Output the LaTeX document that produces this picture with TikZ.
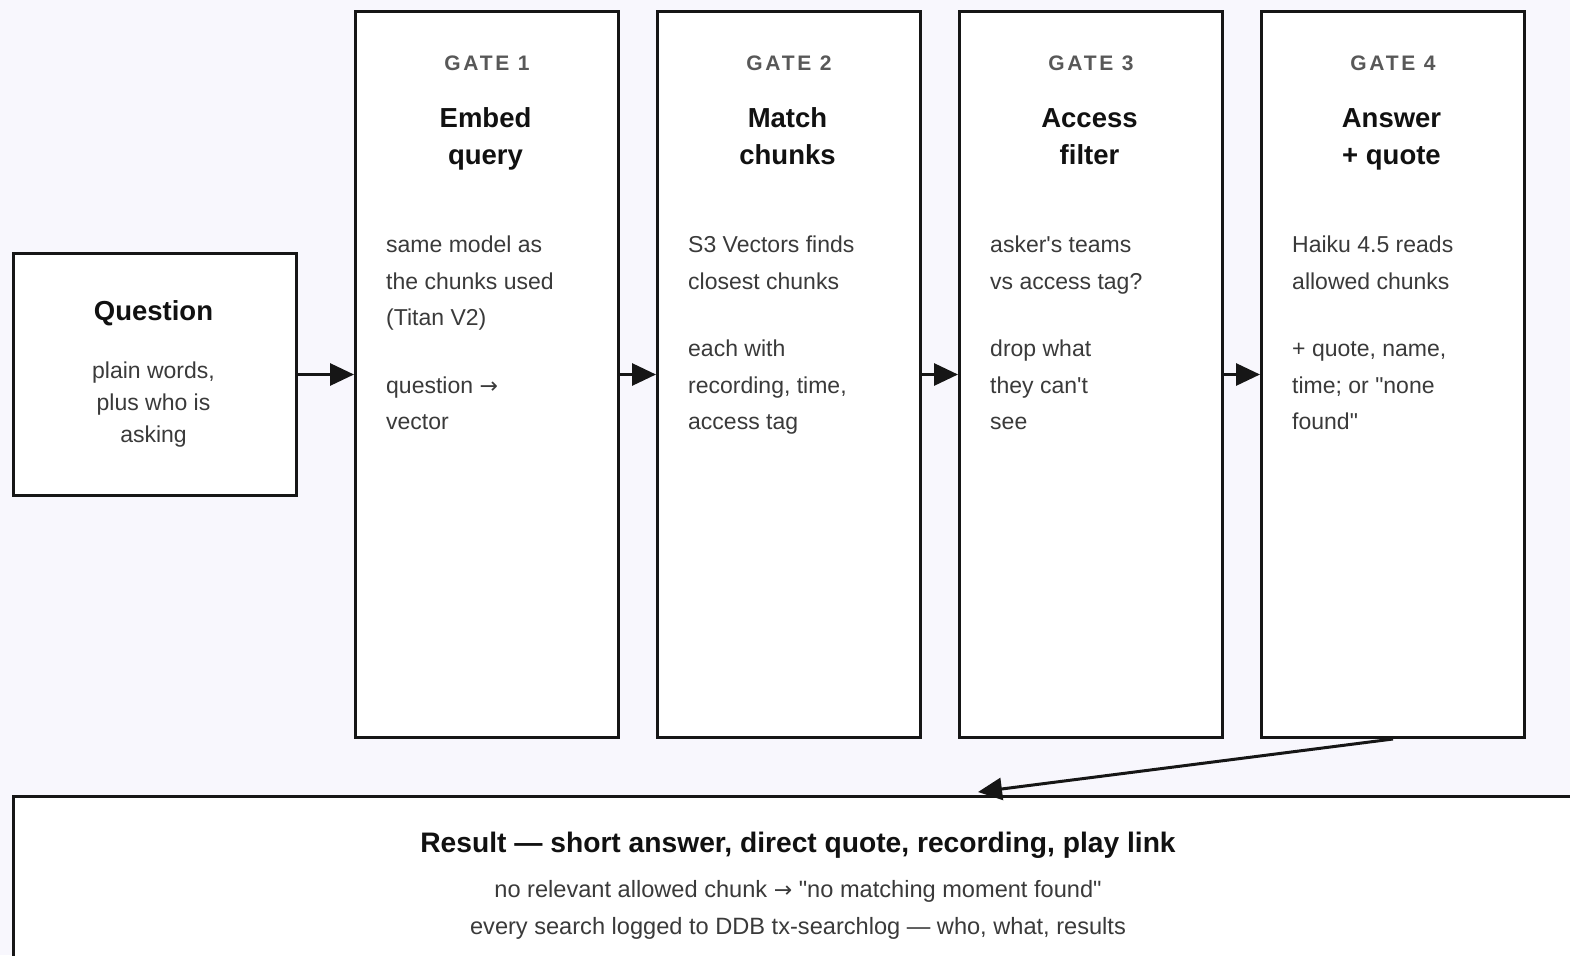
\documentclass[tikz,border=0pt]{standalone}
\usepackage{fontspec}
\setmainfont{Liberation Sans}[Ligatures=TeXOff]
\newfontfamily\gatefont{Liberation Sans}[LetterSpace=13, Ligatures=TeXOff]
\newfontfamily\arrowfont{DejaVu Sans}
\usetikzlibrary{arrows.meta}

\definecolor{pagebg}{RGB}{248,247,253}
\definecolor{edge}{RGB}{22,22,22}
\definecolor{titleink}{RGB}{17,17,17}
\definecolor{bodyink}{RGB}{58,58,58}
\definecolor{gateink}{RGB}{88,88,88}

\newcommand{\toarrow}{{\arrowfont\fontsize{22}{22}\selectfont →}}

\tikzset{
  box/.style={draw=edge, line width=3pt, fill=white, inner sep=0pt, anchor=north west},
  arr/.style={draw=edge, line width=3pt, -{Triangle[length=24pt,width=22pt]}},
  gatelabel/.style={anchor=base, inner sep=0pt, text=gateink,
    font=\gatefont\bfseries\fontsize{21}{25}\selectfont},
  title/.style={anchor=base, inner sep=0pt, text=titleink, align=center,
    font=\bfseries\fontsize{27.5}{36}\selectfont},
  body/.style={anchor=base west, inner sep=0pt, text=bodyink, align=left,
    font=\fontsize{23}{36.6}\selectfont},
  qbody/.style={anchor=base, inner sep=0pt, text=bodyink, align=center,
    font=\fontsize{23}{32}\selectfont},
  rbody/.style={anchor=base, inner sep=0pt, text=bodyink, align=center,
    font=\fontsize{23.6}{36.3}\selectfont},
}

\begin{document}
\begin{tikzpicture}[x=1pt, y=-1pt]
  \useasboundingbox (0,0) rectangle (1570,955);
  \clip (0,0) rectangle (1570,955);
  \fill[pagebg] (0,0) rectangle (1570,955);

  % boxes
  \node[box, minimum width=283, minimum height=242] (q) at (12,252) {};
  \node[box, minimum width=263, minimum height=726] (g1) at (354,10) {};
  \node[box, minimum width=263, minimum height=726] (g2) at (656,10) {};
  \node[box, minimum width=263, minimum height=726] (g3) at (958,10) {};
  \node[box, minimum width=263, minimum height=726] (g4) at (1260,10) {};
  \node[box, minimum width=1600, minimum height=200] (res) at (12,795) {};

  % question (multi-line nodes sit on the baseline of their last line)
  \node[title] (qt) at (153.5,320.7) {Question};
  \node[qbody] (qb) at (153.5,442.5) {plain words,\\plus who is\\asking};

  % gate 1
  \node[gatelabel] (g1l) at (487,71) {GATE 1};
  \node[title] (g1t) at (485.5,164) {Embed\\query};
  \node[body] (g1a) at (386,325.9) {same model as\\the chunks used\\(Titan V2)};
  \node[body] (g1b) at (386,429.9) {question \toarrow\\vector};

  % gate 2
  \node[gatelabel] (g2l) at (789,71) {GATE 2};
  \node[title] (g2t) at (787.5,164) {Match\\chunks};
  \node[body] (g2a) at (688,289.3) {S3 Vectors finds\\closest chunks};
  \node[body] (g2b) at (688,429.9) {each with\\recording, time,\\access tag};

  % gate 3
  \node[gatelabel] (g3l) at (1091,71) {GATE 3};
  \node[title] (g3t) at (1089.5,164) {Access\\filter};
  \node[body] (g3a) at (990,289.3) {asker's teams\\vs access tag?};
  \node[body] (g3b) at (990,429.9) {drop what\\they can't\\see};

  % gate 4
  \node[gatelabel] (g4l) at (1393,71) {GATE 4};
  \node[title] (g4t) at (1391.5,164) {Answer\\+ quote};
  \node[body] (g4a) at (1292,289.3) {Haiku 4.5 reads\\allowed chunks};
  \node[body] (g4b) at (1292,429.9) {+ quote, name,\\time; or "none\\found"};

  % result
  \node[title, font=\bfseries\fontsize{28.2}{36}\selectfont] (rt) at (798,852.3)
    {Result — short answer, direct quote, recording, play link};
  \node[rbody] (rb) at (798,934)
    {no relevant allowed chunk \toarrow{} "no matching moment found"\\every search logged to DDB tx-searchlog — who, what, results};

  % connectors
  \coordinate (rin) at (978,792);
  \draw[arr] (q.east) -- (g1.west);
  \draw[arr] (g1.east) -- (g2.west);
  \draw[arr] (g2.east) -- (g3.west);
  \draw[arr] (g3.east) -- (g4.west);
  \draw[arr] (g4.south) -- (rin);
\end{tikzpicture}
\end{document}
